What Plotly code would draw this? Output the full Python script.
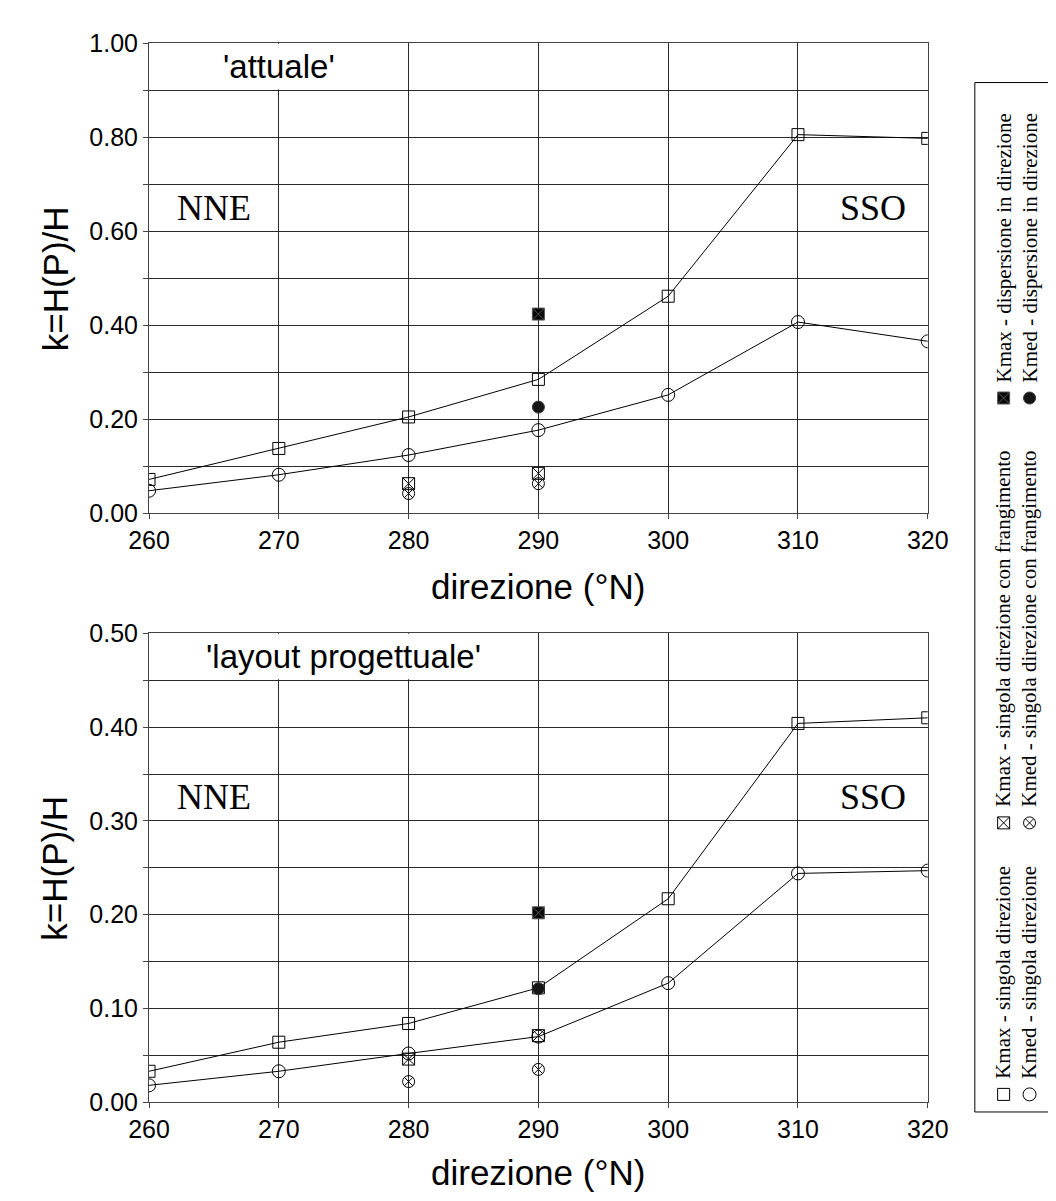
import plotly.graph_objects as go

# ---------------- data ----------------
directions = [260, 270, 280, 290, 300, 310, 320]
fr_dirs = [280, 290]
disp_dirs = [290]

# 'attuale'
att_kmax_sd = [0.072, 0.138, 0.205, 0.285, 0.462, 0.806, 0.798]
att_kmed_sd = [0.048, 0.082, 0.124, 0.177, 0.252, 0.407, 0.366]
att_kmax_fr = [0.063, 0.085]
att_kmed_fr = [0.042, 0.063]
att_kmax_disp = [0.424]
att_kmed_disp = [0.226]

# 'layout progettuale'
prog_kmax_sd = [0.033, 0.064, 0.084, 0.122, 0.217, 0.404, 0.410]
prog_kmed_sd = [0.018, 0.033, 0.052, 0.070, 0.127, 0.244, 0.247]
prog_kmax_fr = [0.046, 0.071]
prog_kmed_fr = [0.022, 0.035]
prog_kmax_disp = [0.202]
prog_kmed_disp = [0.121]

top_yticks = [0.0, 0.1, 0.2, 0.3, 0.4, 0.5, 0.6, 0.7, 0.8, 0.9, 1.0]
top_ylabels = ["0.00", "", "0.20", "", "0.40", "", "0.60", "", "0.80", "", "1.00"]
bot_yticks = [0.0, 0.05, 0.1, 0.15, 0.2, 0.25, 0.3, 0.35, 0.4, 0.45, 0.5]
bot_ylabels = ["0.00", "", "0.10", "", "0.20", "", "0.30", "", "0.40", "", "0.50"]

legend_labels = [
    "Kmax - singola direzione",
    "Kmed - singola direzione",
    "Kmax - singola direzione con frangimento",
    "Kmed - singola direzione con frangimento",
    "Kmax - dispersione in direzione",
    "Kmed - dispersione in direzione",
]

# ---------------- layout geometry (pixels) ----------------
W, H = 1056, 1201
PX0, PX1 = 125, 936
TOP_Y0, TOP_Y1 = 22, 503
BOT_Y0, BOT_Y1 = 626, 1106


def fx(px):
    return px / W


def fy(py):
    return 1 - py / H


BLACK = "#000000"
GRID = "#2a2a2a"
SANS = "Liberation Sans, Arial, sans-serif"
SERIF = "Liberation Serif, Times New Roman, serif"

styles = {
    "kmax_sd": dict(symbol="square-open", size=12, color=BLACK, line=dict(width=1, color=BLACK)),
    "kmed_sd": dict(symbol="circle-open", size=13, color=BLACK, line=dict(width=1, color=BLACK)),
    "kmax_fr": dict(symbol="square-x-open", size=12, color=BLACK, line=dict(width=1, color=BLACK)),
    "kmed_fr": dict(symbol="circle-x-open", size=12, color=BLACK, line=dict(width=1, color=BLACK)),
    "kmax_disp": dict(symbol="square-x", size=12, color="#080808", line=dict(width=1, color="#555555")),
    "kmed_disp": dict(symbol="circle", size=12, color="#151515", line=dict(width=1, color="#333333")),
}

fig = go.Figure()


def add_panel(xa, ya, kmax_sd, kmed_sd, kmax_fr, kmed_fr, kmax_disp, kmed_disp):
    fig.add_trace(go.Scatter(x=directions, y=kmax_sd, mode="lines+markers", xaxis=xa, yaxis=ya,
                             line=dict(color=BLACK, width=1), marker=styles["kmax_sd"], showlegend=False))
    fig.add_trace(go.Scatter(x=directions, y=kmed_sd, mode="lines+markers", xaxis=xa, yaxis=ya,
                             line=dict(color=BLACK, width=1), marker=styles["kmed_sd"], showlegend=False))
    fig.add_trace(go.Scatter(x=fr_dirs, y=kmax_fr, mode="markers", xaxis=xa, yaxis=ya,
                             marker=styles["kmax_fr"], showlegend=False))
    fig.add_trace(go.Scatter(x=fr_dirs, y=kmed_fr, mode="markers", xaxis=xa, yaxis=ya,
                             marker=styles["kmed_fr"], showlegend=False))
    fig.add_trace(go.Scatter(x=disp_dirs, y=kmax_disp, mode="markers", xaxis=xa, yaxis=ya,
                             marker=styles["kmax_disp"], showlegend=False))
    fig.add_trace(go.Scatter(x=disp_dirs, y=kmed_disp, mode="markers", xaxis=xa, yaxis=ya,
                             marker=styles["kmed_disp"], showlegend=False))


add_panel("x", "y", att_kmax_sd, att_kmed_sd, att_kmax_fr, att_kmed_fr, att_kmax_disp, att_kmed_disp)
add_panel("x2", "y2", prog_kmax_sd, prog_kmed_sd, prog_kmax_fr, prog_kmed_fr, prog_kmax_disp, prog_kmed_disp)

# ---------------- legend (rotated, drawn on a narrow pixel-space helper axis) ----------------
LEG_X0, LEG_X1 = 985, 1062
LEG_Y0, LEG_Y1 = 62, 1116
col_x = [1015, 1042]
row_marker_y = [1098, 820, 385]   # singola, frangimento, dispersione
leg_keys = ["kmax_sd", "kmed_sd", "kmax_fr", "kmed_fr", "kmax_disp", "kmed_disp"]
for i, key in enumerate(leg_keys):
    r, c = i // 2, i % 2
    fig.add_trace(go.Scatter(x=[col_x[c]], y=[row_marker_y[r]], mode="markers", xaxis="x3", yaxis="y3",
                             marker=styles[key], showlegend=False, hoverinfo="skip"))

annotations = []
for i, lab in enumerate(legend_labels):
    r, c = i // 2, i % 2
    annotations.append(dict(text=lab, x=fx(col_x[c]), y=fy(row_marker_y[r] - 14), xref="paper", yref="paper",
                            xanchor="center", yanchor="bottom", textangle=-90, showarrow=False,
                            font=dict(family=SERIF, size=21, color=BLACK)))

# titles inside panels
annotations += [
    dict(text="'attuale'", x=270, y=0.95, xref="x", yref="y", showarrow=False,
         font=dict(family=SANS, size=33, color=BLACK)),
    dict(text="'layout progettuale'", x=275, y=0.475, xref="x2", yref="y2", showarrow=False,
         font=dict(family=SANS, size=33, color=BLACK)),
    dict(text="NNE", x=265, y=0.65, xref="x", yref="y", showarrow=False,
         font=dict(family=SERIF, size=36, color=BLACK)),
    dict(text="SSO", x=315.8, y=0.65, xref="x", yref="y", showarrow=False,
         font=dict(family=SERIF, size=36, color=BLACK)),
    dict(text="NNE", x=265, y=0.325, xref="x2", yref="y2", showarrow=False,
         font=dict(family=SERIF, size=36, color=BLACK)),
    dict(text="SSO", x=315.8, y=0.325, xref="x2", yref="y2", showarrow=False,
         font=dict(family=SERIF, size=36, color=BLACK)),
    # axis titles
    dict(text="direzione (°N)", x=fx((PX0 + PX1) / 2), y=fy(578), xref="paper", yref="paper",
         xanchor="center", yanchor="middle", showarrow=False, font=dict(family=SANS, size=35, color=BLACK)),
    dict(text="direzione (°N)", x=fx((PX0 + PX1) / 2), y=fy(1178), xref="paper", yref="paper",
         xanchor="center", yanchor="middle", showarrow=False, font=dict(family=SANS, size=35, color=BLACK)),
    dict(text="k=H(P)/H", x=fx(27), y=fy((TOP_Y0 + TOP_Y1) / 2), xref="paper", yref="paper",
         xanchor="center", yanchor="middle", textangle=-90, showarrow=False,
         font=dict(family=SANS, size=35, color=BLACK)),
    dict(text="k=H(P)/H", x=fx(27), y=fy((BOT_Y0 + BOT_Y1) / 2), xref="paper", yref="paper",
         xanchor="center", yanchor="middle", textangle=-90, showarrow=False,
         font=dict(family=SANS, size=35, color=BLACK)),
]

shapes = [
    # white boxes hiding the grid behind the panel titles
    dict(type="rect", xref="x", yref="y", x0=260, x1=279.75, y0=0.902, y1=1.0,
         fillcolor="white", line=dict(width=0), layer="between"),
    dict(type="rect", xref="x2", yref="y2", x0=260, x1=289.75, y0=0.451, y1=0.5,
         fillcolor="white", line=dict(width=0), layer="between"),
    # legend frame (its right side runs off the canvas, as in the original)
    dict(type="rect", xref="paper", yref="paper", x0=fx(LEG_X0), x1=fx(LEG_X1), y0=fy(LEG_Y1), y1=fy(LEG_Y0),
         line=dict(color=BLACK, width=1), fillcolor="rgba(0,0,0,0)", layer="below"),
]

xaxis_common = dict(range=[260, 320], dtick=10, tick0=260, showgrid=True, gridcolor=GRID, gridwidth=1,
                    showline=True, linecolor="#444444", linewidth=1, mirror=True, ticks="outside",
                    ticklen=5, tickcolor="#444444", tickfont=dict(family=SANS, size=25, color=BLACK),
                    zeroline=False, fixedrange=True)
yaxis_common = dict(showgrid=True, gridcolor=GRID, gridwidth=1, showline=True, linecolor="#444444",
                    linewidth=1, mirror=True, ticks="outside", ticklen=5, tickcolor="#444444",
                    tickfont=dict(family=SANS, size=25, color=BLACK), zeroline=False, fixedrange=True)

fig.update_layout(
    width=W, height=H, margin=dict(l=0, r=0, t=0, b=0),
    paper_bgcolor="white", plot_bgcolor="rgba(0,0,0,0)", showlegend=False,
    xaxis=dict(xaxis_common, domain=[fx(PX0), fx(PX1)], anchor="y"),
    yaxis=dict(yaxis_common, domain=[fy(TOP_Y1), fy(TOP_Y0)], range=[0, 1.0],
               tickvals=top_yticks, ticktext=top_ylabels, anchor="x"),
    xaxis2=dict(xaxis_common, domain=[fx(PX0), fx(PX1)], anchor="y2"),
    yaxis2=dict(yaxis_common, domain=[fy(BOT_Y1), fy(BOT_Y0)], range=[0, 0.5],
                tickvals=bot_yticks, ticktext=bot_ylabels, anchor="x2"),
    xaxis3=dict(domain=[fx(LEG_X0), 1.0], range=[LEG_X0, W], visible=False,
                fixedrange=True, anchor="y3"),
    yaxis3=dict(domain=[fy(LEG_Y1), fy(LEG_Y0)], range=[LEG_Y1, LEG_Y0], visible=False,
                fixedrange=True, anchor="x3"),
    annotations=annotations,
    shapes=shapes,
)

fig.write_html("out.html")
